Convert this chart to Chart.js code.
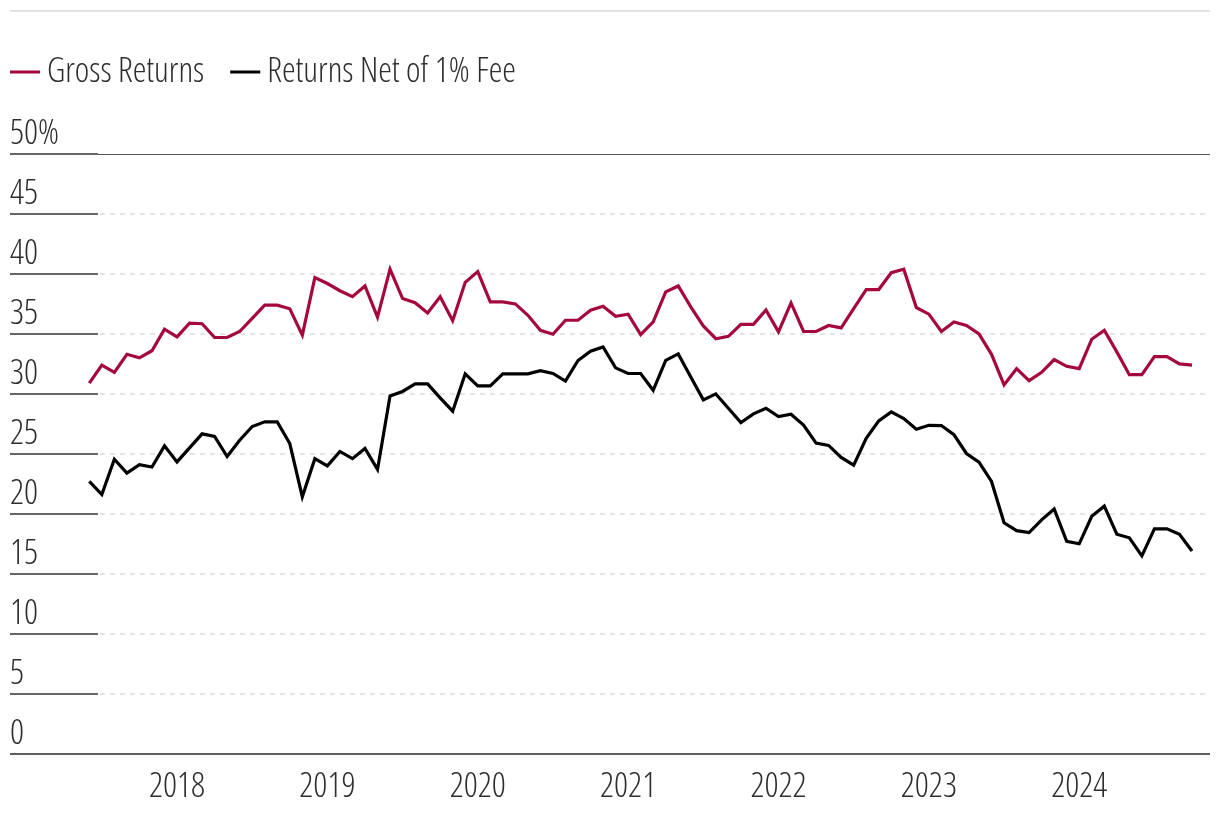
<!DOCTYPE html>
<html>
<head>
<meta charset="utf-8">
<script src="https://cdn.jsdelivr.net/npm/chart.js@4.4.1/dist/chart.umd.min.js"></script>
<style>
html,body{margin:0;padding:0;background:#ffffff;}
#wrap{width:1220px;height:818px;position:relative;}
</style>
</head>
<body>
<div id="wrap"><canvas id="c" width="1220" height="818"></canvas></div>
<script>
// Monthly observations, Jun 2017 - Oct 2024
const months = [
  '2017-06','2017-07','2017-08','2017-09','2017-10','2017-11','2017-12',
  '2018-01','2018-02','2018-03','2018-04','2018-05','2018-06','2018-07','2018-08','2018-09','2018-10','2018-11','2018-12',
  '2019-01','2019-02','2019-03','2019-04','2019-05','2019-06','2019-07','2019-08','2019-09','2019-10','2019-11','2019-12',
  '2020-01','2020-02','2020-03','2020-04','2020-05','2020-06','2020-07','2020-08','2020-09','2020-10','2020-11','2020-12',
  '2021-01','2021-02','2021-03','2021-04','2021-05','2021-06','2021-07','2021-08','2021-09','2021-10','2021-11','2021-12',
  '2022-01','2022-02','2022-03','2022-04','2022-05','2022-06','2022-07','2022-08','2022-09','2022-10','2022-11','2022-12',
  '2023-01','2023-02','2023-03','2023-04','2023-05','2023-06','2023-07','2023-08','2023-09','2023-10','2023-11','2023-12',
  '2024-01','2024-02','2024-03','2024-04','2024-05','2024-06','2024-07','2024-08','2024-09','2024-10'
];

const grossReturns = [
  30.9, 32.4, 31.8, 33.3, 33.0, 33.6, 35.4,
  34.75, 35.9, 35.85, 34.7, 34.7, 35.2, 36.3, 37.4, 37.4, 37.1, 34.9, 39.7,
  39.2, 38.6, 38.1, 39.0, 36.4, 40.4, 37.95, 37.6, 36.75, 38.1, 36.1, 39.3,
  40.2, 37.67, 37.67, 37.5, 36.55, 35.3, 34.97, 36.14, 36.14, 36.97, 37.3, 36.47,
  36.64, 34.94, 36.0, 38.5, 39.0, 37.25, 35.67, 34.6, 34.8, 35.8, 35.8, 37.0,
  35.17, 37.58, 35.2, 35.2, 35.7, 35.5, 37.1, 38.7, 38.7, 40.1, 40.4, 37.2,
  36.65, 35.2, 36.0, 35.7, 35.0, 33.3, 30.75, 32.1, 31.1, 31.8, 32.86, 32.3,
  32.1, 34.56, 35.3, 33.5, 31.6, 31.6, 33.1, 33.1, 32.5, 32.4
];

const netReturns = [
  22.7, 21.6, 24.55, 23.4, 24.1, 23.9, 25.67,
  24.33, 25.5, 26.67, 26.45, 24.78, 26.14, 27.28, 27.67, 27.67, 25.86, 21.42, 24.6,
  24.0, 25.2, 24.6, 25.45, 23.7, 29.83, 30.2, 30.83, 30.83, 29.67, 28.56, 31.67,
  30.67, 30.67, 31.67, 31.67, 31.67, 31.94, 31.7, 31.06, 32.78, 33.56, 33.92, 32.17,
  31.7, 31.7, 30.3, 32.8, 33.33, 31.4, 29.5, 30.0, 28.8, 27.6, 28.33, 28.8,
  28.1, 28.3, 27.4, 25.9, 25.7, 24.7, 24.06, 26.3, 27.75, 28.5, 27.94, 27.05,
  27.38, 27.36, 26.6, 25.03, 24.3, 22.7, 19.25, 18.6, 18.44, 19.5, 20.4, 17.7,
  17.5, 19.8, 20.64, 18.3, 18.0, 16.5, 18.75, 18.75, 18.3, 16.9
];

const yearLabels = ['2018','2019','2020','2021','2022','2023','2024'];
const yTickValues = [0, 5, 10, 15, 20, 25, 30, 35, 40, 45, 50];
const seriesNames = ['Gross Returns', 'Returns Net of 1% Fee'];

// ---- font choice: condensed light face (Open Sans) if available, else DejaVu Sans Condensed
const probe = document.createElement('canvas').getContext('2d');
function widthOf(f, t) { probe.font = f; return probe.measureText(t || 'Gross Returns').width; }
let FONT_FAMILY, FONT_WEIGHT;
const wNormal = widthOf("300 30px 'Open Sans'");
const wCond = widthOf("condensed 300 30px 'Open Sans'");
if (wCond < wNormal * 0.95) {
  FONT_FAMILY = "'Open Sans'"; FONT_WEIGHT = 'condensed 300';
} else {
  FONT_FAMILY = "'DejaVu Sans Condensed','DejaVu Sans',sans-serif"; FONT_WEIGHT = 'normal';
}
const w30 = widthOf(FONT_WEIGHT + ' 30px ' + FONT_FAMILY);
let FS = Math.round(30 * 164 / w30 * 2) / 2;
FS = Math.max(24, Math.min(34.5, FS));
const FONT_STR = FONT_WEIGHT + ' ' + FS + 'px ' + FONT_FAMILY;
const mkFont = () => ({ family: FONT_FAMILY, size: FS, weight: FONT_WEIGHT });

const TEXT = '#2e2e2e';
const RED = '#a5093b';
const BLACK = '#000000';
const COLORS = [RED, BLACK];

// legend geometry
const LEG_X = 10, LEG_CY = 72, MARK_W = 30, TEXT_GAP = 7, ITEM_GAP = 26;
const BOX_W = Math.max(4, MARK_W + TEXT_GAP - FS / 2);

const decor = {
  id: 'decor',
  beforeInit(chart) {
    const lg = chart.legend;
    if (lg) {
      const orig = lg.fit;
      lg.fit = function () { orig.call(this); this.height = 154; };
    }
  },
  afterLayout(chart) {
    const lg = chart.legend;
    if (lg) {
      lg.left = LEG_X - ITEM_GAP;
      lg.top = LEG_CY - ITEM_GAP - FS / 2;
    }
  },
  beforeDraw(chart) {
    const ctx = chart.ctx;
    ctx.save();
    ctx.strokeStyle = '#e3e3e3';
    ctx.lineWidth = 2;
    ctx.beginPath();
    ctx.moveTo(10, 11);
    ctx.lineTo(1210, 11);
    ctx.stroke();
    ctx.restore();
  },
  beforeDatasetsDraw(chart) {
    const ctx = chart.ctx;
    const y = chart.scales.y;
    const L = 10, M = 98, R = 1210;
    ctx.save();
    yTickValues.forEach(v => {
      const py = Math.round(y.getPixelForValue(v));
      if (v === 0) {
        ctx.setLineDash([]);
        ctx.strokeStyle = '#5f5f5f';
        ctx.lineWidth = 2;
        ctx.beginPath(); ctx.moveTo(L, py); ctx.lineTo(R, py); ctx.stroke();
        return;
      }
      ctx.setLineDash([]);
      ctx.strokeStyle = '#666666';
      ctx.lineWidth = 2;
      ctx.beginPath(); ctx.moveTo(L, py); ctx.lineTo(M, py); ctx.stroke();
      if (v === 50) {
        ctx.strokeStyle = '#555555';
        ctx.lineWidth = 1;
        ctx.beginPath(); ctx.moveTo(M, py + 0.5); ctx.lineTo(R, py + 0.5); ctx.stroke();
      } else {
        ctx.setLineDash([5, 5]);
        ctx.strokeStyle = '#dddddd';
        ctx.lineWidth = 1.5;
        ctx.beginPath(); ctx.moveTo(M + 2, py); ctx.lineTo(R, py); ctx.stroke();
      }
    });
    ctx.restore();
  },
  afterDraw(chart) {
    // legend line markers (Chart.js legend box itself is transparent)
    const ctx = chart.ctx;
    ctx.save();
    ctx.font = FONT_STR;
    let x = LEG_X;
    seriesNames.forEach((name, i) => {
      ctx.fillStyle = COLORS[i];
      ctx.fillRect(x, LEG_CY - 1.5, MARK_W, 3);
      x += BOX_W + FS / 2 + ctx.measureText(name).width + ITEM_GAP;
    });
    ctx.restore();
  }
};

new Chart(document.getElementById('c'), {
  type: 'line',
  data: {
    labels: months,
    datasets: [
      { label: seriesNames[0], data: grossReturns, borderColor: RED, backgroundColor: RED,
        borderWidth: 3.2, pointRadius: 0, tension: 0, fill: false },
      { label: seriesNames[1], data: netReturns, borderColor: BLACK, backgroundColor: BLACK,
        borderWidth: 3.2, pointRadius: 0, tension: 0, fill: false }
    ]
  },
  options: {
    responsive: false,
    animation: false,
    layout: { padding: { left: 10, right: 28, top: 0, bottom: 0 } },
    plugins: {
      tooltip: { enabled: false },
      legend: {
        display: true,
        position: 'top',
        align: 'start',
        labels: {
          boxWidth: BOX_W,
          boxHeight: 3,
          padding: ITEM_GAP,
          color: TEXT,
          font: mkFont(),
          generateLabels(chart) {
            return Chart.defaults.plugins.legend.labels.generateLabels(chart).map(l => {
              l.lineWidth = 0;
              l.fillStyle = 'rgba(0,0,0,0)';
              l.strokeStyle = 'rgba(0,0,0,0)';
              return l;
            });
          }
        }
      }
    },
    scales: {
      x: {
        type: 'category',
        offset: false,
        grid: { display: false, drawTicks: false },
        border: { display: false },
        ticks: {
          autoSkip: false, maxRotation: 0, minRotation: 0, padding: 13,
          color: TEXT, font: mkFont(),
          callback(val) {
            const lab = this.getLabelForValue(val);
            const yr = lab.slice(0, 4);
            return (lab.endsWith('-01') && yearLabels.includes(yr)) ? yr : '';
          }
        },
        afterFit(s) { s.height = 64.3; }
      },
      y: {
        min: 0, max: 50,
        grid: { display: false, drawTicks: false },
        border: { display: false },
        ticks: {
          stepSize: 5, crossAlign: 'far', labelOffset: -20, padding: 0,
          color: TEXT, font: mkFont(),
          callback(v) { return v === 50 ? '50%' : String(v); }
        },
        afterFit(s) { s.width = 79.3; }
      }
    }
  },
  plugins: [decor]
});
</script>
</body>
</html>
